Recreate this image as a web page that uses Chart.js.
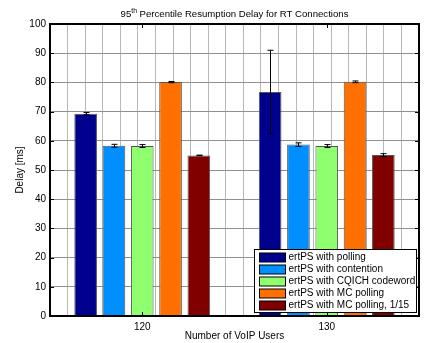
<!DOCTYPE html>
<html>
<head>
<meta charset="utf-8">
<script src="https://cdn.jsdelivr.net/npm/chart.js@4/dist/chart.umd.min.js"></script>
<style>
  html, body { margin: 0; padding: 0; background: #fff; }
</style>
</head>
<body>
<canvas id="c" width="425" height="343"></canvas>
<script>
// Number of VoIP users on the x axis
const userCounts = ['120', '130'];

// Scheme names and their colours
const schemeNames = [
  'ertPS with polling',
  'ertPS with contention',
  'ertPS with CQICH codeword',
  'ertPS with MC polling',
  'ertPS with MC polling, 1/15'
];
const schemeColors = ['#00008F', '#008FFF', '#8FFF70', '#FF7000', '#800000'];

// 95th percentile resumption delay [ms] per scheme
const pollingDelay     = [69.3, 76.7];
const contentionDelay  = [58.3, 58.7];
const cqichDelay       = [58.2, 58.2];
const mcPollingDelay   = [80.1, 80.2];
const mcPolling15Delay = [55.0, 55.1];

// Half widths of the confidence intervals [ms]
const pollingErr     = [0.4, 14.3];
const contentionErr  = [0.5, 0.6];
const cqichErr       = [0.5, 0.5];
const mcPollingErr   = [0.2, 0.3];
const mcPolling15Err = [0.1, 0.5];

// Axis ranges
const yTicks = [0, 10, 20, 30, 40, 50, 60, 70, 80, 90, 100];
const gridRange = [115, 135];

const delays = [pollingDelay, contentionDelay, cqichDelay, mcPollingDelay, mcPolling15Delay];
const errors = [pollingErr, contentionErr, cqichErr, mcPollingErr, mcPolling15Err];

const FONT = "'Liberation Sans', Arial, Helvetica, sans-serif";

const datasets = schemeNames.map((name, i) => ({
  label: name,
  data: delays[i],
  errors: errors[i],
  backgroundColor: schemeColors[i],
  borderColor: '#555',
  borderWidth: 1,
  categoryPercentage: 0.767,
  barPercentage: 0.8,
  xAxisID: 'x',
  yAxisID: 'y'
}));

// Error bars, axes frame, inward ticks, legend box and title
const decorations = {
  id: 'decorations',
  afterDatasetsDraw(chart) {
    const ctx = chart.ctx;
    const ca = chart.chartArea;
    const y = chart.scales.y;
    const x = chart.scales.x;

    // error bars
    ctx.save();
    ctx.strokeStyle = '#000';
    ctx.lineWidth = 1;
    chart.data.datasets.forEach((ds, i) => {
      const meta = chart.getDatasetMeta(i);
      meta.data.forEach((bar, j) => {
        const v = ds.data[j], e = ds.errors[j];
        const px = Math.round(bar.x) + 0.5;
        const hi = y.getPixelForValue(v + e);
        const lo = y.getPixelForValue(v - e);
        ctx.beginPath();
        ctx.moveTo(px, hi); ctx.lineTo(px, lo);
        ctx.moveTo(px - 3, hi); ctx.lineTo(px + 3, hi);
        ctx.moveTo(px - 3, lo); ctx.lineTo(px + 3, lo);
        ctx.stroke();
      });
    });
    ctx.restore();

    // frame
    ctx.save();
    ctx.strokeStyle = '#000';
    ctx.lineWidth = 2;
    ctx.strokeRect(ca.left, ca.top, ca.right - ca.left, ca.bottom - ca.top);
    ctx.lineWidth = 1;
    ctx.beginPath();
    yTicks.forEach(t => {
      const py = Math.round(y.getPixelForValue(t)) + 0.5;
      ctx.moveTo(ca.left, py); ctx.lineTo(ca.left + 4, py);
      ctx.moveTo(ca.right, py); ctx.lineTo(ca.right - 4, py);
    });
    userCounts.forEach((u, j) => {
      const px = Math.round(x.getPixelForValue(j)) + 0.5;
      ctx.moveTo(px, ca.top); ctx.lineTo(px, ca.top + 4);
      ctx.moveTo(px, ca.bottom); ctx.lineTo(px, ca.bottom - 4);
    });
    ctx.stroke();
    ctx.restore();

    // legend
    ctx.save();
    const boxW = 162, boxH = 63;
    const bx = Math.round(ca.right - 3 - boxW) + 0.5;
    const by = Math.round(ca.bottom - 4 - boxH) + 0.5;
    ctx.fillStyle = '#fff';
    ctx.fillRect(bx, by, boxW, boxH);
    ctx.strokeStyle = '#000';
    ctx.lineWidth = 1;
    ctx.strokeRect(bx, by, boxW, boxH);
    ctx.font = '10px ' + FONT;
    ctx.textBaseline = 'middle';
    ctx.textAlign = 'left';
    chart.data.datasets.forEach((ds, i) => {
      const cy = by + 7.5 + i * 12.15;
      const sx = bx + 5, sw = 26, sh = 9;
      ctx.fillStyle = ds.backgroundColor;
      ctx.fillRect(sx, Math.round(cy - sh / 2), sw, sh);
      ctx.strokeStyle = '#000';
      ctx.strokeRect(sx, Math.round(cy - sh / 2), sw, sh);
      ctx.fillStyle = '#000';
      ctx.fillText(ds.label, sx + sw + 3, cy);
    });
    ctx.restore();

    // title with superscript
    ctx.save();
    const cx = (ca.left + ca.right) / 2;
    const big = '9.6px ' + FONT, small = '6.8px ' + FONT;
    const a = '95', sup = 'th', b = ' Percentile Resumption Delay for RT Connections';
    ctx.font = big; const wa = ctx.measureText(a).width, wb = ctx.measureText(b).width;
    ctx.font = small; const ws = ctx.measureText(sup).width;
    let tx = cx - (wa + ws + wb) / 2;
    ctx.fillStyle = '#000';
    ctx.textBaseline = 'alphabetic';
    ctx.textAlign = 'left';
    ctx.font = big; ctx.fillText(a, tx, 17); tx += wa;
    ctx.font = small; ctx.fillText(sup, tx, 13); tx += ws;
    ctx.font = big; ctx.fillText(b, tx, 17);
    ctx.restore();
  }
};

new Chart(document.getElementById('c'), {
  type: 'bar',
  data: { labels: userCounts, datasets },
  plugins: [decorations],
  options: {
    responsive: false,
    devicePixelRatio: 1,
    animation: false,
    layout: { padding: { top: 24, right: 6, left: 0, bottom: 0 } },
    plugins: { legend: { display: false }, tooltip: { enabled: false } },
    scales: {
      x: {
        type: 'category',
        position: 'bottom',
        grid: { display: false, drawTicks: false },
        border: { display: false },
        ticks: { color: '#000', font: { family: FONT, size: 10 }, padding: 5 },
        title: { display: true, text: 'Number of VoIP Users', color: '#000',
                 font: { family: FONT, size: 10 }, padding: { top: 0, bottom: 1 } },
        afterFit(s) { s.height = 27; }
      },
      xGrid: {
        type: 'linear',
        position: 'top',
        min: gridRange[0],
        max: gridRange[1],
        ticks: { display: false, stepSize: 1 },
        grid: { color: '#b8b8b8', borderDash: [1, 2], drawTicks: false },
        border: { display: false },
        afterFit(s) { s.height = 0; }
      },
      y: {
        min: 0,
        max: 100,
        ticks: { stepSize: 10, color: '#000', font: { family: FONT, size: 10 }, padding: 4 },
        grid: { color: '#909090', borderDash: [1, 2], drawTicks: false },
        border: { display: false },
        title: { display: true, text: 'Delay [ms]', color: '#000',
                 font: { family: FONT, size: 10 }, padding: { top: 14, bottom: 0 } },
        afterFit(s) { s.width = 50; }
      }
    }
  }
});
</script>
</body>
</html>
